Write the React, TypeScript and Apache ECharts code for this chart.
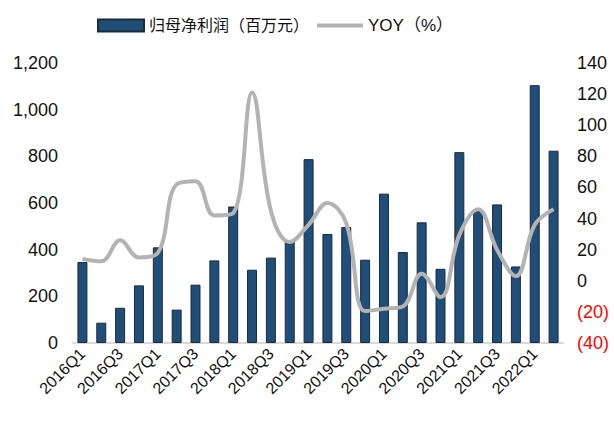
import React, { useEffect, useRef } from "react";
import * as echarts from "echarts";

const categories = [
  "2016Q1","2016Q2","2016Q3","2016Q4",
  "2017Q1","2017Q2","2017Q3","2017Q4",
  "2018Q1","2018Q2","2018Q3","2018Q4",
  "2019Q1","2019Q2","2019Q3","2019Q4",
  "2020Q1","2020Q2","2020Q3","2020Q4",
  "2021Q1","2021Q2","2021Q3","2021Q4",
  "2022Q1","2022Q2",
];

const netProfit = [
  347, 87, 151, 247,
  410, 143, 250, 354,
  585, 314, 366, 435,
  788, 467, 497, 357,
  640, 390, 517, 318,
  818, 568, 594, 328,
  1105, 824,
];

const yoy = [
  14, 12.5, 26, 15,
  18, 62, 64, 42,
  43.5, 121, 45, 25,
  36, 50, 37, -19.5,
  -18, -16.5, 4.5, -10.5,
  29.5, 46, 20, 3,
  36, 46,
];

const barName = "归母净利润（百万元）";
const lineName = "YOY（%）";

export default function App() {
  const ref = useRef<HTMLDivElement>(null);
  useEffect(() => {
    if (!ref.current) return;
    const chart = echarts.init(ref.current, null, { renderer: "svg" });
    chart.setOption({
      animation: false,
      backgroundColor: "#ffffff",
      legend: {
        top: 12,
        left: 92,
        itemGap: 6,
        itemWidth: 46,
        itemHeight: 12,
        textStyle: {
          fontSize: 16,
          color: "#111",
          fontFamily: "'Liberation Sans', 'Noto Sans CJK SC', Arial, sans-serif",
        },
        data: [
          { name: barName, icon: "rect" },
          {
            name: lineName,
            itemStyle: { opacity: 0 },
            lineStyle: { width: 4, color: "#b3b3b3" },
            textStyle: { fontSize: 17 },
          },
        ],
      },
      grid: { left: 73, right: 51, top: 63, bottom: 85, containLabel: false },
      xAxis: {
        type: "category",
        data: categories,
        axisLine: { lineStyle: { color: "#d9d9d9", width: 2 } },
        axisTick: { show: false },
        axisLabel: {
          interval: 1,
          rotate: 45,
          fontSize: 16,
          color: "#111",
          fontFamily: "'Liberation Sans', Arial, sans-serif",
          margin: 8,
        },
      },
      yAxis: [
        {
          type: "value",
          min: 0,
          max: 1200,
          interval: 200,
          splitLine: { show: false },
          axisLine: { show: false },
          axisTick: { show: false },
          axisLabel: {
            fontSize: 18,
            color: "#111",
            margin: 15,
            fontFamily: "'Liberation Sans', Arial, sans-serif",
            formatter: (v: number) => v.toLocaleString("en-US"),
          },
        },
        {
          type: "value",
          min: -40,
          max: 140,
          interval: 20,
          splitLine: { show: false },
          axisLine: { show: false },
          axisTick: { show: false },
          axisLabel: {
            fontSize: 18,
            color: "#111",
            margin: 14,
            fontFamily: "'Liberation Sans', Arial, sans-serif",
            formatter: (v: number) => (v < 0 ? `{neg|(${Math.abs(v)})}` : `${v}`),
            rich: {
              neg: {
                color: "#ff0000",
                fontSize: 18,
                fontFamily: "'Liberation Sans', Arial, sans-serif",
              },
            },
          },
        },
      ],
      series: [
        {
          name: barName,
          type: "bar",
          data: netProfit,
          barWidth: "53%",
          itemStyle: { color: "#1f4e79", borderColor: "#1b2b3c", borderWidth: 1 },
        },
        {
          name: lineName,
          type: "line",
          yAxisIndex: 1,
          data: yoy,
          smooth: 0.4,
          symbol: "none",
          lineStyle: { color: "#b3b3b3", width: 4 },
          itemStyle: { color: "#b3b3b3" },
        },
      ],
    });
    return () => chart.dispose();
  }, []);
  return (
    <div
      ref={ref}
      style={{ position: "fixed", left: 0, top: 0, width: 614, height: 428 }}
    />
  );
}
